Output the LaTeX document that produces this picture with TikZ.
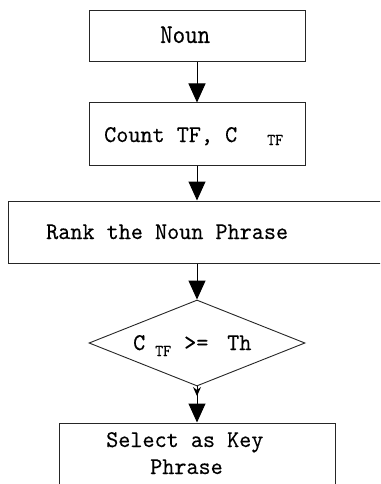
\documentclass[tikz,border=0pt]{standalone}
\usepackage{fontspec}
\newfontfamily\dfont{lmmono10-regular.otf}[FakeBold=0.25,FakeStretch=0.96]
\newfontfamily\dfontn{lmmono10-regular.otf}[FakeBold=0.25,FakeStretch=0.88]
\newfontfamily\dfonts{lmmono10-regular.otf}[FakeBold=0.15,FakeStretch=0.92]
\usetikzlibrary{arrows.meta,shapes.geometric}
\begin{document}
\begin{tikzpicture}[x=1pt,y=-1pt,
  boxnode/.style={draw=black!85,line width=1pt,rectangle,inner sep=0pt},
  decnode/.style={draw=black!85,line width=0.9pt,diamond,inner sep=0pt,minimum width=216pt,minimum height=86pt},
  lbl/.style={anchor=base west,inner sep=0pt,font=\fontsize{24}{26}\selectfont\dfont},
  biglbl/.style={anchor=base west,inner sep=0pt,font=\fontsize{27}{28}\selectfont\dfontn},
  sublbl/.style={anchor=base west,inner sep=0pt,font=\fontsize{16.5}{18}\selectfont\dfonts},
  arr/.style={line width=1pt,-{Triangle[length=19pt,width=17pt]}},
  smallarr/.style={line width=1pt,-{Stealth[length=9pt,width=8pt,inset=3pt]}}]
\clip (0,0) rectangle (380,484);
\fill[white] (0,0) rectangle (380,484);
% boxes
\node[boxnode,minimum width=216pt,minimum height=51pt] (b1) at (197,36.5) {};
\node[boxnode,minimum width=216pt,minimum height=62pt] (b2) at (197,134) {};
\node[boxnode,minimum width=382pt,minimum height=62pt] (b3) at (199,232) {};
\node[decnode] (d) at (197,343) {};
\node[boxnode,minimum width=276pt,minimum height=80pt] (b5) at (197,463) {};
% texts
\node[biglbl] (t1) at (160,43) {Noun};
\node[lbl] (t2) at (104,142) {Count TF, C};
\node[sublbl] (t2s) at (267,145) {TF};
\node[lbl] (t3) at (46,239) {Rank the Noun Phrase};
\node[lbl] (t4a) at (133,350) {C};
\node[sublbl] (t4s) at (155,356) {TF};
\node[lbl] (t4b) at (184,350) {>=};
\node[lbl] (t4c) at (227,350) {Th};
\node[lbl] (t5a) at (106,447) {Select as Key};
\node[lbl] (t5b) at (150,474) {Phrase};
% connectors
\draw[arr] (b1.south) -- (b2.north);
\draw[arr] (b2.south) -- (b3.north -| b2.south);
\draw[arr] (b3.south -| d.north) -- (d.north);
\coordinate (tip) at (197,396);
\draw[arr] (d.south) -- (b5.north);
\draw[smallarr] (d.south) -- (tip);
\end{tikzpicture}
\end{document}
